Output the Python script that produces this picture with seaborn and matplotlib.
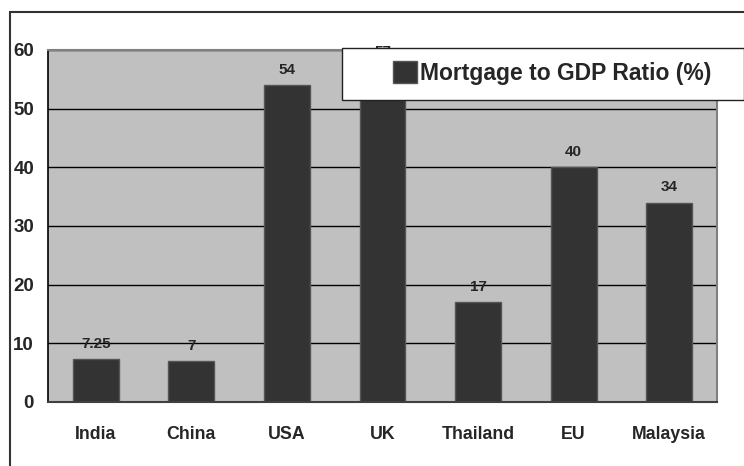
import matplotlib
matplotlib.use("Agg")
import matplotlib.pyplot as plt
from matplotlib.patches import Patch, Rectangle
import seaborn as sns
import pandas as pd

countries = ["India", "China", "USA", "UK", "Thailand", "EU", "Malaysia"]
ratios = [7.25, 7, 54, 57, 17, 40, 34]
value_labels = ["7.25", "7", "54", "57", "17", "40", "34"]
series_name = "Mortgage to GDP Ratio (%)"

sns.set_style("white")
plt.rcParams["font.family"] = ["Liberation Sans", "DejaVu Sans"]
plt.rcParams["font.weight"] = "bold"

W, H = 744, 466
fig = plt.figure(figsize=(W / 100, H / 100), dpi=100)
ax = fig.add_axes([48 / W, 1 - 402 / H, (717 - 48) / W, (402 - 50) / H])

df = pd.DataFrame({"country": countries, "ratio": ratios})
sns.barplot(data=df, x="country", y="ratio", color="#333333", saturation=1,
            width=0.48, edgecolor="#555555", linewidth=1, ax=ax)

ax.set_facecolor("#c0c0c0")
ax.set_ylim(0, 60)
ax.set_xlim(-0.5, len(countries) - 0.5)
ax.set_yticks(range(0, 61, 10))
ax.set_axisbelow(True)
ax.yaxis.grid(True, color="black", lw=1)
ax.set_xlabel("")
ax.set_ylabel("")

for side in ["top", "right"]:
    ax.spines[side].set_visible(True)
    ax.spines[side].set_color("#808080")
    ax.spines[side].set_linewidth(1.5)
ax.spines["left"].set_color("black")
ax.spines["left"].set_linewidth(1.2)
ax.spines["bottom"].set_color("#404040")
ax.spines["bottom"].set_linewidth(1.5)

ax.tick_params(axis="y", length=5, width=1, color="black", pad=5, labelsize=13.5)
ax.set_xticks([i - 0.5 for i in range(len(countries) + 1)], minor=True)
ax.tick_params(axis="x", which="major", length=0, pad=17, labelsize=12.8)
ax.tick_params(axis="x", which="minor", length=5, width=1, color="black", direction="out")
for lab in ax.get_xticklabels() + ax.get_yticklabels():
    lab.set_fontweight("bold")

labs = ax.bar_label(ax.containers[0], labels=value_labels, padding=6,
                    fontsize=11, fontweight="bold")
for t in labs:
    t.set_clip_on(False)

# outer chart border
fig.add_artist(Rectangle((10 / W, -0.1), 1.2, (H - 12) / H + 0.1,
                         transform=fig.transFigure, fill=False,
                         ec="#333333", lw=1.5, zorder=0.5))

# legend box
fig.add_artist(Rectangle((342 / W, 1 - 100 / H), (744 - 342) / W, 52 / H,
                         transform=fig.transFigure, fc="white", ec="#222222",
                         lw=1, zorder=3))
handle = Patch(facecolor="#333333", edgecolor="#555555", label=series_name)
leg = fig.legend(handles=[handle], loc="center left",
                 bbox_to_anchor=(393 / W, 1 - 73 / H), frameon=False,
                 borderpad=0, borderaxespad=0, handlelength=1.05,
                 handleheight=1.05, handletextpad=0.15,
                 prop={"size": 16.5, "weight": "bold"})
leg.set_zorder(4)

fig.savefig("out.png", dpi=100)
